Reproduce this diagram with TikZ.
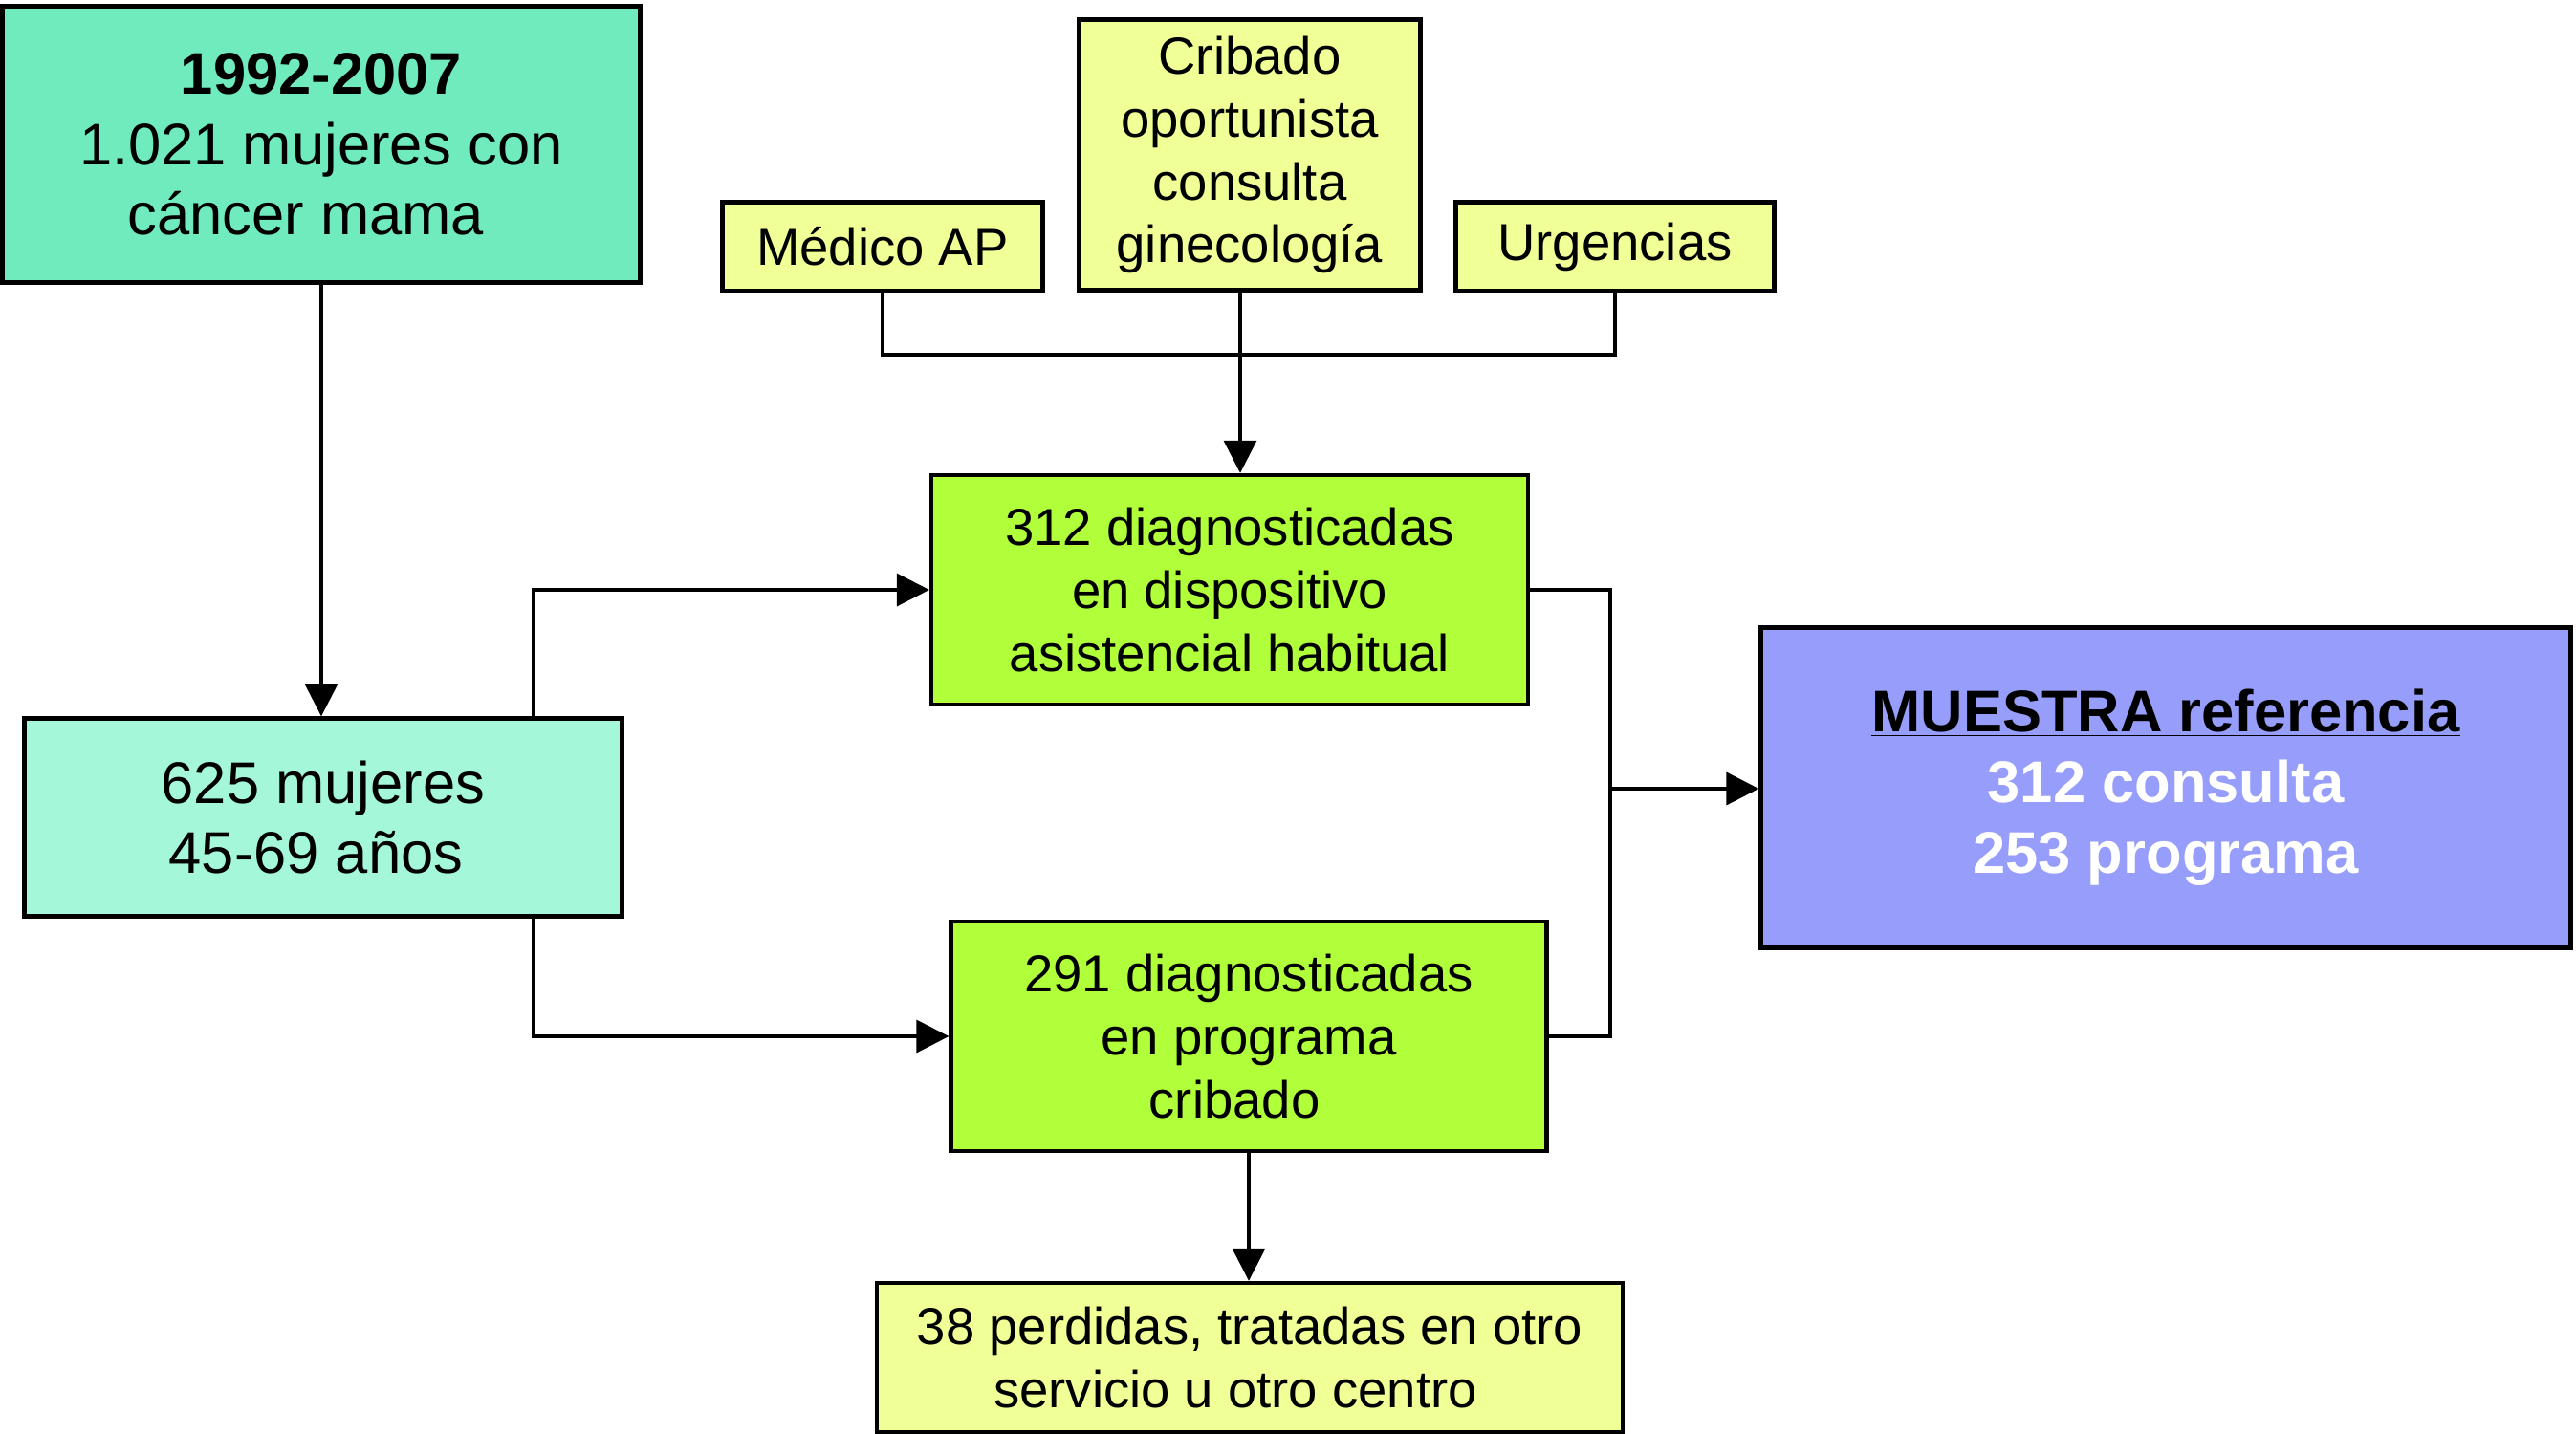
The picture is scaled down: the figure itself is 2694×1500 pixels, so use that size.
\documentclass[tikz,border=0pt]{standalone}
\usepackage{fontspec}
\setmainfont{Liberation Sans}
\usetikzlibrary{arrows.meta,calc}
\definecolor{teal1}{RGB}{112,235,190}
\definecolor{teal2}{RGB}{165,247,218}
\definecolor{yel}{RGB}{240,255,150}
\definecolor{grn}{RGB}{176,255,58}
\definecolor{blu}{RGB}{150,157,250}
\begin{document}
\begin{tikzpicture}[x=0.02cm,y=-0.02cm,
  box/.style={draw=black, line width=2.5pt, align=center, inner sep=0pt},
  big/.style={font=\fontsize{35}{42}\selectfont},
  small/.style={font=\fontsize{31}{37.5}\selectfont},
  conn/.style={line width=2pt},
  arr/.style={conn, -{Triangle[length=0.68cm,width=0.68cm]}}]
\useasboundingbox (0,0) rectangle (2694,1500);
\node[box,big,fill=teal1,minimum width=13.34cm,minimum height=5.78cm] (b1) at (336,151)
  {{\bfseries 1992-2007}\\1.021 mujeres con\\cáncer mama\hspace*{0.65cm}};
\node[box,small,fill=yel,minimum width=6.7cm,minimum height=1.86cm] (med) at (923,258) {Médico AP};
\node[box,small,fill=yel,minimum width=7.14cm,minimum height=5.66cm] (cri) at (1307,162)
  {Cribado\\oportunista\\consulta\\ginecología};
\node[box,small,fill=yel,minimum width=6.66cm,minimum height=1.86cm] (urg) at (1689,258) {Urgencias};
\node[box,small,fill=grn,minimum width=12.48cm,minimum height=4.8cm] (d312) at (1286,617)
  {312 diagnosticadas\\en dispositivo\\asistencial habitual};
\node[box,big,fill=teal2,minimum width=12.5cm,minimum height=4.14cm] (b625) at (338,855)
  {625 mujeres\\45-69 años\hspace*{0.3cm}};
\node[box,small,fill=grn,minimum width=12.46cm,minimum height=4.8cm] (d291) at (1306,1084)
  {291 diagnosticadas\\en programa\\cribado\hspace*{0.6cm}};
\node[box,small,fill=yel,minimum width=15.6cm,minimum height=3.12cm] (p38) at (1307,1420)
  {38 perdidas, tratadas en otro\\servicio u otro centro\hspace*{0.6cm}};
\node[box,big,fill=blu,minimum width=16.94cm,minimum height=6.7cm] (mu) at (2265,824)
  {{\bfseries\underline{MUESTRA referencia}}\\{\bfseries\color{white}312 consulta}\\{\bfseries\color{white}253 programa}};
% connectors
\draw[arr] (b1.south) -- (b1.south |- b625.north);
\coordinate (j1) at (1297,371);
\draw[conn] (med.south) |- (j1);
\draw[conn] (urg.south) |- (j1);
\draw[arr] (cri.south -| j1) -- (j1 |- d312.north);
\draw[arr] ($(b625.north west)!0.85!(b625.north east)$) |- (d312.west);
\draw[arr] ($(b625.south west)!0.85!(b625.south east)$) |- (d291.west);
\coordinate (jx) at (1684,825);
\draw[conn] (d312.east) -| (jx);
\draw[conn] (d291.east) -| (jx);
\draw[arr] (jx) -- (jx -| mu.west);
\draw[arr] (d291.south) -- (d291.south |- p38.north);
\end{tikzpicture}
\end{document}
